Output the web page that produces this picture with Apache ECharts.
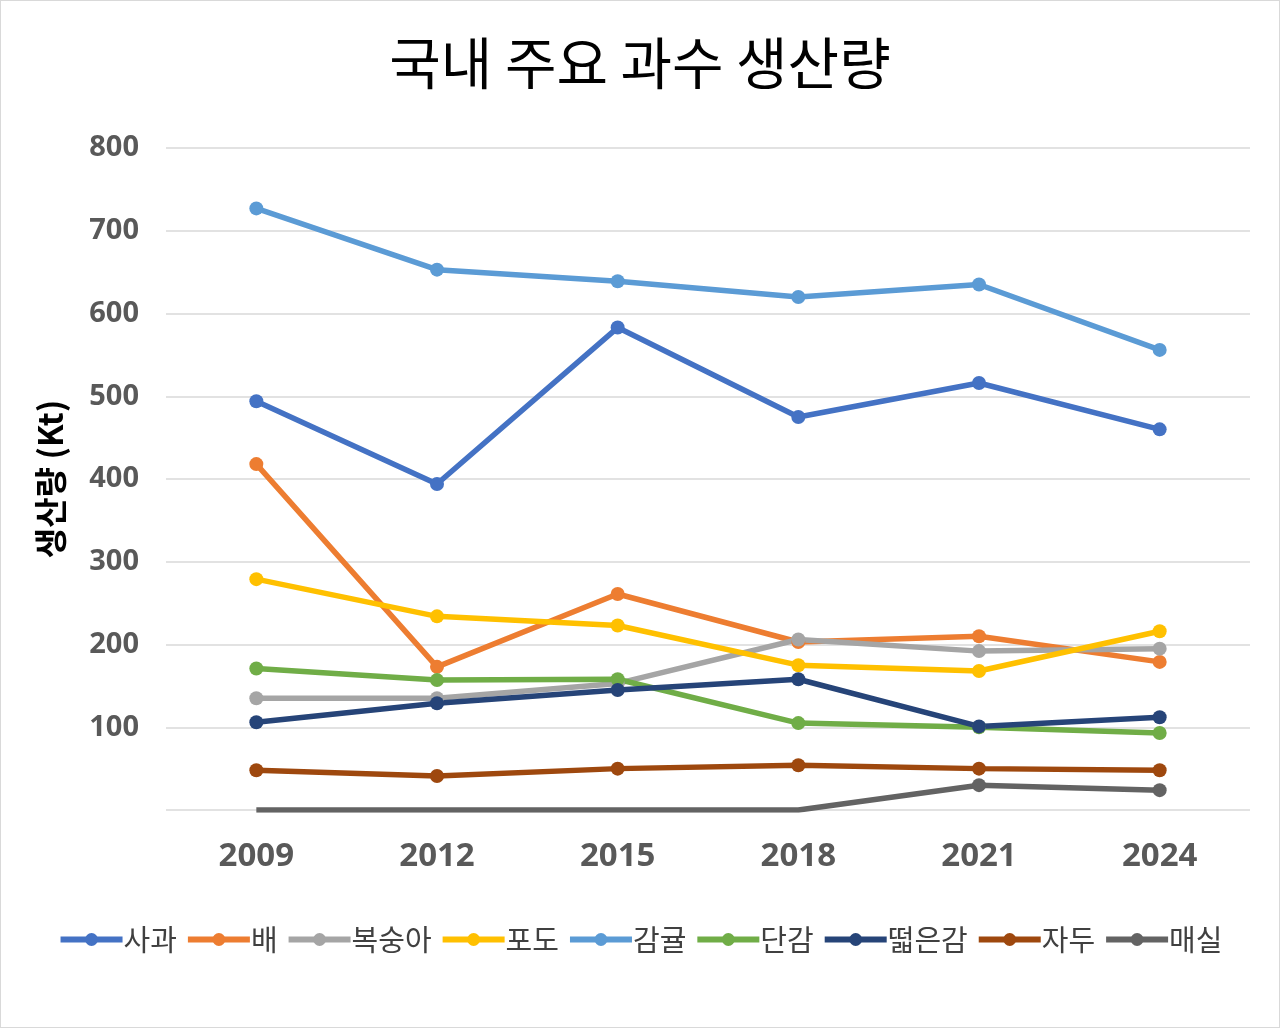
<!DOCTYPE html>
<html><head><meta charset="utf-8">
<script src="https://cdn.jsdelivr.net/npm/echarts@6/dist/echarts.min.js"></script>
<style>
html,body{margin:0;padding:0;background:#fff;}
#c{width:1278px;height:1026px;border:1px solid #d9d9d9;}
</style></head>
<body><div id="c"></div>
<script>
const years = ['2009','2012','2015','2018','2021','2024'];
const seriesNames = ['사과','배','복숭아','포도','감귤','단감','떫은감','자두','매실'];
const apple   = [494, 394, 583, 475, 516, 460];
const pear    = [418, 173, 261, 203, 210, 179];
const peach   = [135, 135, 153, 206, 192, 195];
const grape   = [279, 234, 223, 175, 168, 216];
const citrus  = [727, 653, 639, 620, 635, 556];
const sweetPersimmon = [171, 157, 158, 105, 100, 93];
const astringentPersimmon = [106, 129, 145, 158, 101, 112];
const plum    = [48, 41, 50, 54, 50, 48];
const maesil  = [0, 0, 0, 0, 30, 24];
const yTicks = [0,100,200,300,400,500,600,700,800];

const colors = ['#4472C4','#ED7D31','#A5A5A5','#FFC000','#5B9BD5','#70AD47','#264478','#9E480E','#636363'];
const allData = [apple, pear, peach, grape, citrus, sweetPersimmon, astringentPersimmon, plum, maesil];
const numFont = '"Open Sans","Noto Sans CJK KR",sans-serif';
const krFont = '"Noto Sans CJK KR","Noto Sans",sans-serif';

const chart = echarts.init(document.getElementById('c'));
chart.setOption({
  animation:false,
  color: colors,
  title:{text:'국내 주요 과수 생산량', left:'center', top:29,
    textStyle:{fontFamily:krFont, fontSize:56, fontWeight:'normal', color:'#000'}},
  grid:{left:165, right:29, top:147, bottom:217},
  legend:{bottom:68, left:'center', itemWidth:62, itemHeight:16, itemGap:8,
    lineStyle:{width:6},
    textStyle:{fontFamily:krFont, fontSize:29, color:'#404040', padding:[0,0,0,-4]},
    data: seriesNames},
  xAxis:{type:'category', data:years, boundaryGap:true,
    axisLine:{show:false}, axisTick:{show:false},
    axisLabel:{fontFamily:numFont, fontSize:33, fontWeight:'bold', color:'#595959', margin:30}},
  yAxis:{type:'value', min:yTicks[0], max:yTicks[yTicks.length-1], interval:100,
    name:'생산량 (Kt)', nameLocation:'middle', nameGap:99, nameRotate:90,
    nameTextStyle:{fontFamily:krFont, fontSize:33, fontWeight:'bold', color:'#000'},
    axisLine:{show:false}, axisTick:{show:false},
    splitLine:{lineStyle:{color:'#d9d9d9', width:1.5}},
    axisLabel:{fontFamily:numFont, fontSize:29, fontWeight:'bold', color:'#595959', margin:27,
      formatter: v => v === 0 ? '' : String(v)}},
  series: seriesNames.map((n,i)=>({
    name:n, type:'line', symbol:'circle', symbolSize:14,
    lineStyle:{width:5.5, color:colors[i]}, itemStyle:{color:colors[i]},
    data: allData[i].map(v => (i === 8 && v === 0) ? {value:v, symbol:'none'} : v)
  }))
});
</script></body></html>
